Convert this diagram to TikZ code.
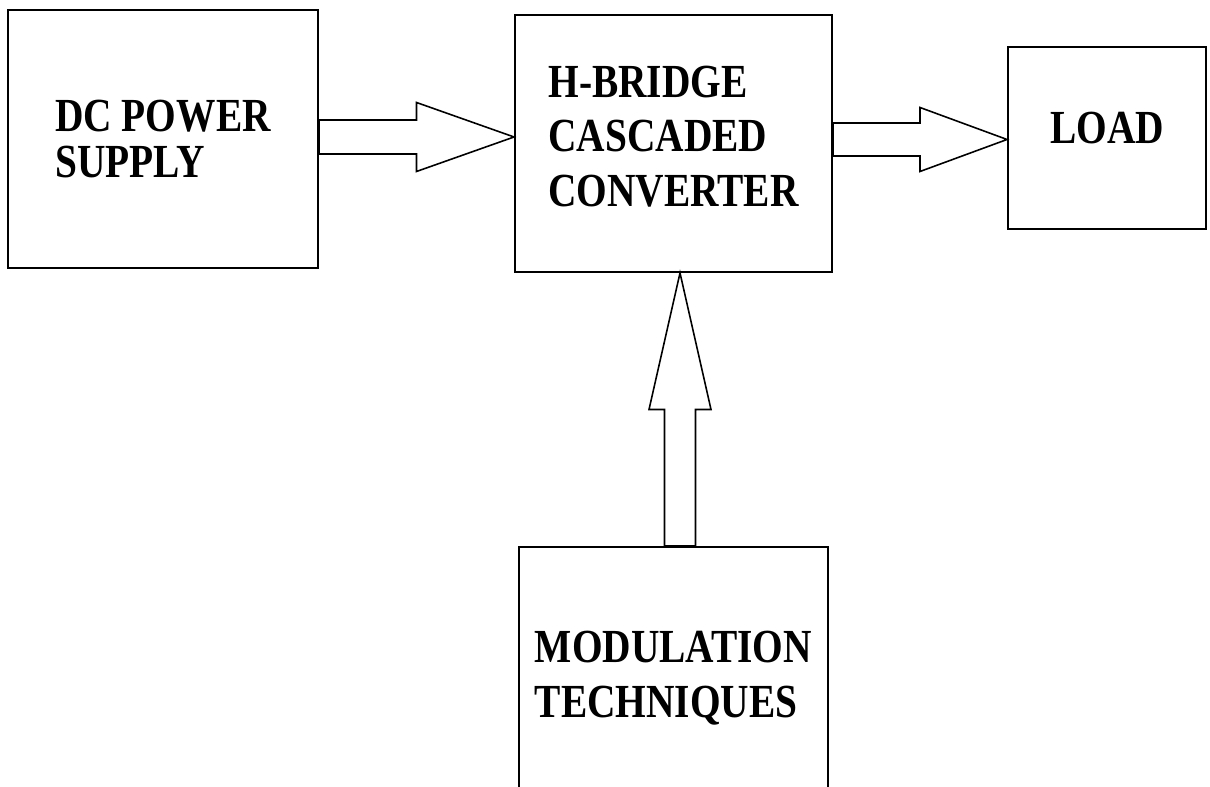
\documentclass[tikz,border=0pt]{standalone}
\usepackage{fontspec}
\newfontfamily\blockfont{Liberation Serif}[FakeStretch=0.83]
\usetikzlibrary{calc}

% #1 start, #2 tip, #3 shaft half width, #4 head half width
\newcommand{\fatarrow}[4]{%
  \coordinate (fm) at ($(#1)!0.5!(#2)$);
  \draw[fat] ($(#1)!#3!90:(#2)$) -- ($(fm)!#3!90:(#2)$) -- ($(fm)!#4!90:(#2)$)
    -- (#2) -- ($(fm)!#4!-90:(#2)$) -- ($(fm)!#3!-90:(#2)$)
    -- ($(#1)!#3!-90:(#2)$) -- cycle;}

\begin{document}
\begin{tikzpicture}[
  block/.style={draw, line width=1.1pt, align=left, inner sep=0pt,
    font=\blockfont\bfseries\fontsize{27}{31}\selectfont},
  fat/.style={draw, line width=0.9pt, line join=miter}
]
  \useasboundingbox (0,0) rectangle (24.2,15.74);

  % Blocks
  \node[block, minimum width=6.2cm, minimum height=5.16cm,
    font=\blockfont\bfseries\fontsize{27}{26.7}\selectfont] (dc) at (3.26,12.96) {DC POWER\\SUPPLY};
  \node[block, minimum width=6.34cm, minimum height=5.14cm, text depth=0.3cm] (hb) at (13.47,12.87) {H-BRIDGE\\CASCADED\\CONVERTER};
  \node[block, minimum width=3.96cm, minimum height=3.64cm, text height=0.64cm, text depth=0.42cm] (load) at (22.14,12.98) {LOAD};
  \node[block, minimum width=6.18cm, minimum height=5.24cm] (mod) at (13.47,2.18) {MODULATION\\TECHNIQUES};

  % Block arrows
  \coordinate (a1) at ($(dc.east)+(0,0.04)$);
  \coordinate (t1) at (a1 -| hb.west);
  \fatarrow{a1}{t1}{0.34cm}{0.69cm}

  \coordinate (a2) at ($(hb.east)+(0,0.08)$);
  \coordinate (t2) at (a2 -| load.west);
  \fatarrow{a2}{t2}{0.33cm}{0.64cm}

  \coordinate (a3) at ($(mod.north)+(0.13,0)$);
  \coordinate (t3) at (a3 |- hb.south);
  \fatarrow{a3}{t3}{0.31cm}{0.62cm}
\end{tikzpicture}
\end{document}
